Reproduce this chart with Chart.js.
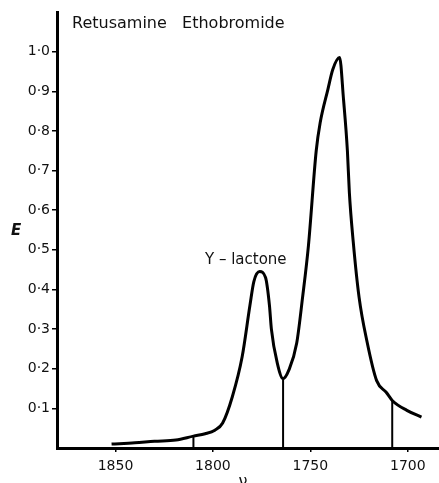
<!DOCTYPE html>
<html>
<head>
<meta charset="utf-8">
<script src="https://cdn.jsdelivr.net/npm/chart.js@4"></script>
<style>
  html, body { margin: 0; padding: 0; background: #fff; }
  #wrap { width: 439px; height: 483px; }
</style>
</head>
<body>
<div id="wrap"><canvas id="ir" width="439" height="483"></canvas></div>
<script>
// wavenumber (cm-1) and absorbance
const wavenumbers = [1852, 1840, 1830, 1819, 1810, 1804, 1799, 1795, 1790, 1785, 1781, 1779, 1776, 1773, 1771, 1770, 1767, 1764, 1761, 1757, 1754, 1751, 1747, 1745, 1741, 1738.5, 1735, 1733, 1731, 1730, 1728, 1725, 1721, 1716, 1711, 1708, 1700.5, 1693];
const absorbance = [0.01, 0.013, 0.017, 0.02, 0.03, 0.036, 0.045, 0.063, 0.13, 0.23, 0.36, 0.42, 0.445, 0.43, 0.36, 0.30, 0.215, 0.175, 0.197, 0.265, 0.38, 0.51, 0.75, 0.82, 0.905, 0.955, 0.985, 0.88, 0.75, 0.645, 0.52, 0.38, 0.27, 0.17, 0.14, 0.12, 0.095, 0.078];

// baseline drop lines
const dropX = [1810, 1764, 1708];
const dropTop = [0.032, 0.172, 0.12];

const xTicks = [1850, 1800, 1750, 1700];
const yTicks = [0.1, 0.2, 0.3, 0.4, 0.5, 0.6, 0.7, 0.8, 0.9, 1.0];

const titleText = 'Retusamine   Ethobromide';
const peakLabel = 'Y \u2013 lactone';

const font = '"DejaVu Sans", sans-serif';

const trace = wavenumbers.map((w, i) => ({ x: w, y: absorbance[i] }));
const drops = dropX.map((w, i) => ({
  data: [{ x: w, y: 0 }, { x: w, y: dropTop[i] }],
  borderColor: '#000',
  borderWidth: 2,
  pointRadius: 0
}));

const textPlugin = {
  id: 'texts',
  afterDraw(chart) {
    const ctx = chart.ctx;
    ctx.save();
    ctx.fillStyle = '#111';
    ctx.textBaseline = 'middle';
    ctx.textAlign = 'left';
    ctx.font = '16px ' + font;
    ctx.fillText(titleText, 72, 24);
    ctx.font = '15px ' + font;
    ctx.fillText(peakLabel, 205, 260);
    ctx.font = 'italic bold 15px ' + font;
    ctx.fillText('E', 11, 231);
    ctx.font = '16px ' + font;
    ctx.textAlign = 'center';
    ctx.textBaseline = 'top';
    ctx.fillText('\u03bd', 243, 474);
    ctx.restore();
  }
};

new Chart(document.getElementById('ir'), {
  type: 'line',
  data: {
    datasets: [{
      data: trace,
      borderColor: '#000',
      borderWidth: 3,
      pointRadius: 0,
      cubicInterpolationMode: 'monotone'
    }].concat(drops)
  },
  options: {
    responsive: false,
    animation: false,
    layout: { padding: { top: 12, right: 0, left: 0, bottom: 0 } },
    plugins: { legend: { display: false }, tooltip: { enabled: false } },
    scales: {
      x: {
        type: 'linear',
        reverse: true,
        min: 1684,
        max: 1880,
        afterFit(s) { s.height = 35; },
        afterBuildTicks(s) { s.ticks = xTicks.map(v => ({ value: v })); },
        border: { color: '#000', width: 3 },
        grid: { drawOnChartArea: false, color: '#000', tickLength: 4, lineWidth: 1.5 },
        ticks: {
          color: '#111',
          font: { family: font, size: 14 },
          padding: 6,
          callback: v => String(v)
        }
      },
      y: {
        min: 0,
        max: 1.1,
        afterFit(s) { s.width = 57; },
        afterBuildTicks(s) { s.ticks = yTicks.map(v => ({ value: v })); },
        border: { color: '#000', width: 3 },
        grid: { drawOnChartArea: false, color: '#000', tickLength: 5, lineWidth: 1.5 },
        ticks: {
          color: '#111',
          font: { family: font, size: 14 },
          padding: 2,
          callback: v => v.toFixed(1).replace('.', '\u00b7')
        }
      }
    }
  },
  plugins: [textPlugin]
});
</script>
</body>
</html>
